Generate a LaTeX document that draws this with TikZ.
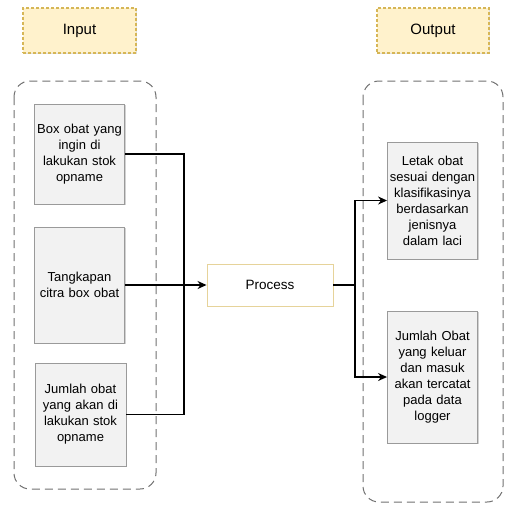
\documentclass[tikz,border=0pt]{standalone}
\usepackage{fontspec}
\setmainfont{Liberation Sans}
\usetikzlibrary{arrows.meta,shadows}
\definecolor{boxfill}{HTML}{F2F2F2}
\definecolor{boxdraw}{HTML}{9A9A9A}
\definecolor{lblfill}{HTML}{FFF2CC}
\definecolor{lbldraw}{HTML}{D6B656}
\definecolor{contdraw}{HTML}{707070}
\tikzset{
  every node/.style={font=\fontsize{13}{16}\selectfont, inner sep=1pt},
  graybox/.style={draw=boxdraw, fill=boxfill, line width=0.9pt, align=center,
    drop shadow={shadow xshift=1.2pt, shadow yshift=-1.2pt, fill=black!35}},
  lblbox/.style={draw=lbldraw, fill=lblfill, dash pattern=on 3pt off 2pt, line width=1.1pt,
    minimum width=113pt, minimum height=45pt, font=\fontsize{15}{18}\selectfont,
    drop shadow={shadow xshift=1.2pt, shadow yshift=-1.2pt, fill=black!25}},
  procbox/.style={draw=lbldraw!60, fill=white, line width=0.9pt,
    minimum width=126pt, minimum height=42pt, font=\fontsize{13.5}{16}\selectfont,
    drop shadow={shadow xshift=1.2pt, shadow yshift=-1.2pt, fill=black!20}},
  container/.style={draw=contdraw, line width=1pt, dash pattern=on 8pt off 5pt, rounded corners=16pt},
  conn/.style={draw=black, line width=1.3pt},
  arr/.style={conn, -{Stealth[length=9pt,width=8pt]}}
}
\begin{document}
\begin{tikzpicture}[x=1pt,y=-1pt]
\useasboundingbox (0,0) rectangle (509,507);
% containers
\draw[container] (14,81) rectangle (156,489);
\draw[container] (363,81) rectangle (503,502);
% labels
\node[lblbox] (inlbl) at (79.5,30.5) {Input};
\node[lblbox, minimum width=112pt] (outlbl) at (433,30.5) {Output};
% input boxes
\node[graybox, minimum width=89pt, minimum height=100pt, text width=88pt] (b1) at (79.5,154)
  {Box obat yang\\ingin di\\lakukan stok\\opname};
\node[graybox, minimum width=89pt, minimum height=116pt, text width=88pt] (b2) at (79.5,285)
  {Tangkapan\\citra box obat};
\node[graybox, minimum width=91pt, minimum height=103pt, text width=88pt] (b3) at (80.5,414.5)
  {Jumlah obat\\yang akan di\\lakukan stok\\opname};
% process
\node[procbox] (proc) at (270,285) {Process};
% output boxes
\node[graybox, minimum width=89pt, minimum height=117pt, text width=88pt] (o1) at (432.5,200.5)
  {Letak obat\\sesuai dengan\\klasifikasinya\\berdasarkan\\jenisnya\\dalam laci};
\node[graybox, minimum width=89pt, minimum height=132pt, text width=88pt] (o2) at (432.5,377)
  {Jumlah Obat\\yang keluar\\dan masuk\\akan tercatat\\pada data\\logger};
% connectors
\coordinate (jl) at (184,285);
\coordinate (jr) at (355,285);
\draw[conn] (b1.east) -| (jl);
\draw[conn] (b3.east) -| (jl);
\draw[arr] (b2.east) -- (proc.west);
\draw[conn] (proc.east) -- (jr);
\draw[arr] (jr) |- (o1.west);
\draw[arr] (jr) |- (o2.west);
\end{tikzpicture}
\end{document}
